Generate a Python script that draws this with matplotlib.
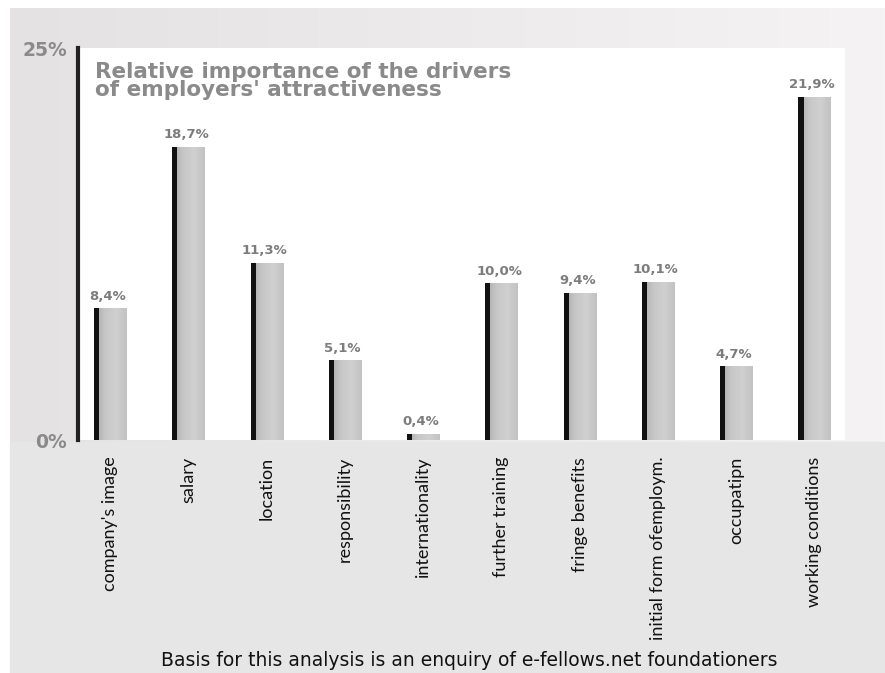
import matplotlib
matplotlib.use("Agg")
import matplotlib.pyplot as plt
import numpy as np
from matplotlib.patches import Rectangle
from matplotlib.colors import LinearSegmentedColormap

categories = ["company's image", "salary", "location", "responsibility",
              "internationality", "further training", "fringe benefits",
              "initial form ofemploym.", "occupatipn", "working conditions"]
values = [8.4, 18.7, 11.3, 5.1, 0.4, 10.0, 9.4, 10.1, 4.7, 21.9]
value_labels = ["8,4%", "18,7%", "11,3%", "5,1%", "0,4%", "10,0%", "9,4%", "10,1%", "4,7%", "21,9%"]
ytick_vals = [0, 25]
ytick_labels = ["0%", "25%"]

W, H = 885, 673
fig = plt.figure(figsize=(W / 100, H / 100), dpi=100)
fig.patch.set_facecolor("white")

# outer grey panel with light gradient
bg = fig.add_axes([0, 0, 1, 1], zorder=-10)
bg.set_axis_off()
grad = np.linspace(0, 1, 256)[None, :]
cm_bg = LinearSegmentedColormap.from_list("bg", ["#e4e2e3", "#f6f3f4"])
bg.imshow(grad, aspect="auto", cmap=cm_bg, extent=[10 / W, 1, 0, 1 - 8 / H])
bg.set_xlim(0, 1)
bg.set_ylim(0, 1)
bg.add_patch(Rectangle((10 / W, 0), 1 - 10 / W, 1 - 442 / H, color="#e6e6e6", zorder=1))

left, right = 78 / W, 845 / W
bottom, top = 1 - 440 / H, 1 - 48 / H
ax = fig.add_axes([left, bottom, right - left, top - bottom])
ax.set_facecolor("white")

x = np.arange(len(values))
w = 0.41
bars = ax.bar(x, values, width=w, color="#c4c4c4", edgecolor="none", zorder=2)
cm_bar = LinearSegmentedColormap.from_list("bar", ["#a8a8a8", "#c6c6c6", "#d0d0d0", "#c2c2c2"])
for b in bars:
    xx, yy = b.get_x(), b.get_y()
    bw, bh = b.get_width(), b.get_height()
    im = ax.imshow(grad, aspect="auto", cmap=cm_bar,
                   extent=[xx, xx + bw, yy, yy + bh], zorder=3)
    im.set_clip_path(b)
ax.bar(x - w / 2, values, width=0.065, align="edge", color="#111111", edgecolor="none", zorder=4)
ax.set_xlim(-0.41, 9.39)
ax.set_ylim(0, 25)

for xi, v, lab in zip(x, values, value_labels):
    ax.text(xi - 0.03, v + 0.35, lab, ha="center", va="bottom", fontsize=9.5,
            fontweight="bold", color="#7c7c7c", family="DejaVu Sans")

for s in ["top", "right", "bottom"]:
    ax.spines[s].set_visible(False)
ax.spines["left"].set_linewidth(3)
ax.spines["left"].set_color("#222222")

ax.set_yticks(ytick_vals)
ax.set_yticklabels(ytick_labels, fontsize=13.5, fontweight="bold", color="#8a8a8a")
ax.tick_params(axis="y", length=0, pad=8)
ax.set_xticks(x)
ax.set_xticklabels(categories, rotation=90, fontsize=13, color="#111111", family="Lato")
ax.tick_params(axis="x", length=0, pad=12)

ax.text(0.022, 0.965, "Relative importance of the drivers\nof employers' attractiveness",
        transform=ax.transAxes, ha="left", va="top", fontsize=15.5, fontweight="bold",
        color="#8a8a8a", linespacing=0.9)

fig.text(469 / W, 1 - 661 / H, "Basis for this analysis is an enquiry of e-fellows.net foundationers",
         ha="center", va="center", fontsize=13.5, color="#111111")

fig.savefig("out.png", dpi=100, facecolor=fig.get_facecolor())
